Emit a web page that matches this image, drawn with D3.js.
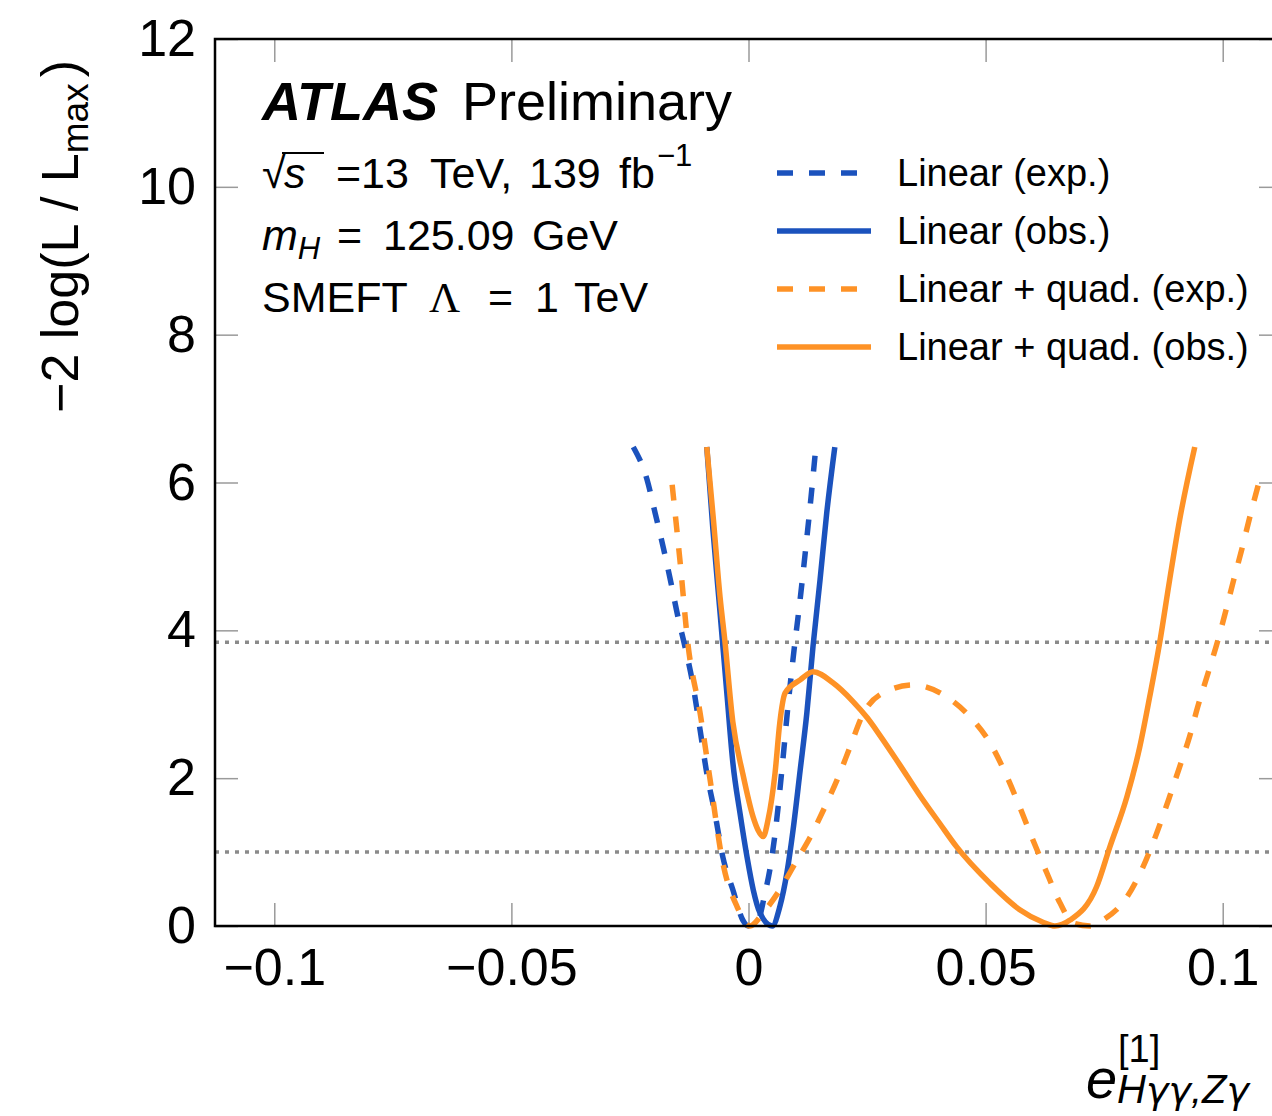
<!DOCTYPE html>
<html>
<head>
<meta charset="utf-8">
<script src="https://cdn.jsdelivr.net/npm/d3@7"></script>
<style>
body { margin: 0; background: #fff; }
svg { display: block; font-family: "Liberation Sans", Arial, Helvetica, sans-serif; }
</style>
</head>
<body>
<svg id="chart" width="1272" height="1116"></svg>
<script>
// scan values (x = e coefficient, y = -2 log L/Lmax)
var linearExp = [[-0.0243,6.48],[-0.0214,6.04],[-0.0197,5.59],[-0.0180,5.13],[-0.0165,4.69],[-0.0149,4.19],
    [-0.0134,3.78],[-0.0119,3.33],[-0.0102,2.65],[-0.0088,2.07],[-0.0071,1.53],[-0.0054,0.93],[-0.0033,0.49],
    [-0.0012,0.08],[0.0,0.0],[0.0018,0.04],[0.0035,0.45],[0.0045,0.76],[0.0057,1.30],[0.0071,2.15],[0.0083,2.96],
    [0.0096,3.73],[0.0108,4.37],[0.0121,5.13],[0.0132,5.81],[0.0142,6.48]];
var linearObs = [[-0.0088,6.48],[-0.0075,5.36],[-0.0060,4.24],[-0.0045,3.10],[-0.0033,2.21],[-0.0018,1.53],
    [-0.0003,0.93],[0.0010,0.49],[0.0024,0.18],[0.0050,0.0],[0.0066,0.26],[0.0081,0.72],[0.0094,1.30],
    [0.0109,2.11],[0.0123,2.88],[0.0136,3.78],[0.0151,4.69],[0.0165,5.59],[0.0182,6.48]];
var quadExp = [[-0.0161,5.97],[-0.0144,4.91],[-0.0128,3.83],[-0.0102,2.88],[-0.0081,1.98],[-0.0054,0.85],
    [-0.0024,0.26],[0.0003,0.0],[0.0031,0.18],[0.0066,0.49],[0.0102,0.89],[0.0130,1.20],[0.0161,1.61],
    [0.0187,1.98],[0.0214,2.42],[0.0241,2.86],[0.0283,3.15],[0.0347,3.26],[0.0418,3.10],[0.0467,2.83],
    [0.0509,2.48],[0.0545,2.02],[0.0572,1.61],[0.0600,1.16],[0.0629,0.72],[0.0657,0.31],[0.0684,0.04],
    [0.0720,0.0],[0.0747,0.08],[0.0798,0.39],[0.0832,0.80],[0.0861,1.26],[0.0888,1.75],[0.0909,2.15],
    [0.0930,2.56],[0.0947,2.96],[0.0969,3.42],[0.0990,3.87],[0.1008,4.30],[0.1023,4.68],[0.1040,5.09],
    [0.1057,5.53],[0.1078,6.04]];
var quadObs = [[-0.0088,6.48],[-0.0074,5.50],[-0.0060,4.45],[-0.0050,3.87],[-0.0033,2.76],[-0.0012,2.06],
    [0.0010,1.47],[0.0020,1.30],[0.0031,1.21],[0.0041,1.43],[0.0056,2.07],[0.0066,2.75],[0.0077,3.15],
    [0.0109,3.33],[0.0136,3.44],[0.0178,3.29],[0.0220,3.04],[0.0250,2.82],[0.0277,2.58],[0.0319,2.18],
    [0.0360,1.78],[0.0403,1.39],[0.0439,1.07],[0.0509,0.58],[0.0572,0.22],[0.0621,0.05],[0.0646,0.0],[0.0678,0.08],
    [0.0734,0.53],[0.0762,1.07],[0.0798,1.75],[0.0825,2.42],[0.0846,3.10],[0.0867,3.83],[0.0888,4.68],
    [0.0909,5.49],[0.0941,6.48]];

var xTicks = [-0.1, -0.05, 0, 0.05, 0.1];
var yTicks = [0, 2, 4, 6, 8, 10, 12];
var thresholds = [1.0, 3.84];
var legendLabels = ["Linear (exp.)", "Linear (obs.)", "Linear + quad. (exp.)", "Linear + quad. (obs.)"];

(function(){
var blue = "#1b52bd", orange = "#fe9226";
var series = [
    {data: linearExp, color: blue,   dash: "16,16"},
    {data: linearObs, color: blue,   dash: null},
    {data: quadExp,   color: orange, dash: "16,16"},
    {data: quadObs,   color: orange, dash: null}
];

var svg = d3.select("#chart");
var m = {left: 215, right: 1282, top: 39, bottom: 926};

var x = d3.scaleLinear().domain([-0.1125, 0.1125]).range([m.left, m.right]);
var y = d3.scaleLinear().domain([0, 12]).range([m.bottom, m.top]);

var fmt = function(d){ return d === 0 ? "0" : (d < 0 ? "\u2212" + String(-d) : String(d)); };

// axes, ticks inward on all four sides
var tickCol = "#9a9a9a";
function styleAxis(g, fs){
    g.select(".domain").remove();
    g.selectAll(".tick line").attr("stroke", tickCol).attr("stroke-width", 1.5);
    g.selectAll(".tick text").attr("fill", "#000").style("font-size", fs + "px")
        .style("font-family", "'Liberation Sans', Arial, sans-serif");
}
svg.append("g").attr("transform", "translate(0," + m.bottom + ")")
    .call(d3.axisBottom(x).tickValues(xTicks).tickFormat(fmt).tickSizeInner(-23).tickSizeOuter(0).tickPadding(22))
    .call(styleAxis, 52);
svg.append("g").attr("transform", "translate(0," + m.top + ")")
    .call(d3.axisTop(x).tickValues(xTicks).tickFormat("").tickSizeInner(-23).tickSizeOuter(0))
    .call(styleAxis, 52);
svg.append("g").attr("transform", "translate(" + m.left + ",0)")
    .call(d3.axisLeft(y).tickValues(yTicks).tickFormat(d3.format("d")).tickSizeInner(-23).tickSizeOuter(0).tickPadding(19))
    .call(styleAxis, 52);
svg.append("g").attr("transform", "translate(" + m.right + ",0)")
    .call(d3.axisRight(y).tickValues(yTicks).tickFormat("").tickSizeInner(-23).tickSizeOuter(0))
    .call(styleAxis, 52);

// reference lines (1 and 3.84)
svg.append("g").selectAll("line").data(thresholds).enter().append("line")
    .attr("x1", m.left).attr("x2", m.right)
    .attr("y1", function(d){ return y(d); }).attr("y2", function(d){ return y(d); })
    .attr("stroke", "#8a8a8a").attr("stroke-width", 3.5).attr("stroke-dasharray", "4,6");

// curves
var line = d3.line().x(function(d){ return x(d[0]); }).y(function(d){ return y(d[1]); })
    .curve(d3.curveMonotoneX);
svg.append("g").selectAll("path").data(series).enter().append("path")
    .attr("d", function(s){ return line(s.data); })
    .attr("fill", "none").attr("stroke", function(s){ return s.color; })
    .attr("stroke-width", 5.5).attr("stroke-dasharray", function(s){ return s.dash; });

// frame
svg.append("rect").attr("x", m.left).attr("y", m.top).attr("width", m.right - m.left).attr("height", m.bottom - m.top)
    .attr("fill", "none").attr("stroke", "#000").attr("stroke-width", 2.5);

// axis titles
var yt = svg.append("text").attr("transform", "translate(78,60) rotate(-90)")
    .attr("text-anchor", "end").attr("xml:space", "preserve").style("font-size", "52px");
yt.append("tspan").text("\u22122 log(L / L");
yt.append("tspan").attr("dy", 10).style("font-size", "37px").text("max");
yt.append("tspan").attr("dy", -10).attr("dx", 6).text(")");

var gam = "'DejaVu Sans', sans-serif";
var xt = svg.append("g");
xt.append("text").attr("x", 1086).attr("y", 1098).style("font-size", "56px").style("font-style", "italic").text("e");
xt.append("text").attr("x", 1118).attr("y", 1062).style("font-size", "38px").text("[1]");
var sub = xt.append("text").attr("x", 1117).attr("y", 1103).style("font-size", "40px").style("font-style", "italic");
sub.append("tspan").text("H");
sub.append("tspan").style("font-family", gam).style("font-size", "38px").text("\u03b3\u03b3");
sub.append("tspan").text(",Z");
sub.append("tspan").style("font-family", gam).style("font-size", "38px").text("\u03b3");

// ATLAS label block
var lab = svg.append("g");
var t1 = lab.append("text").attr("x", 262).attr("y", 120).style("font-size", "54px");
t1.append("tspan").style("font-weight", "bold").style("font-style", "italic").text("ATLAS");
t1.append("tspan").attr("x", 462).text("Preliminary");

var t2 = lab.append("text").attr("y", 188).style("font-size", "43px");
t2.append("tspan").attr("x", 262).text("\u221a");
t2.append("tspan").attr("x", 284).style("font-style", "italic").text("s");
t2.append("tspan").attr("x", 336).text("=13");
t2.append("tspan").attr("x", 430).text("TeV,");
t2.append("tspan").attr("x", 529).text("139");
t2.append("tspan").attr("x", 619).text("fb");
t2.append("tspan").attr("x", 657).attr("dy", -22).style("font-size", "31px").text("\u22121");
lab.append("line").attr("x1", 282).attr("x2", 324).attr("y1", 153).attr("y2", 153)
    .attr("stroke", "#000").attr("stroke-width", 2);

var t3 = lab.append("text").attr("y", 250).style("font-size", "43px");
t3.append("tspan").attr("x", 262).style("font-style", "italic").text("m");
t3.append("tspan").attr("dy", 9).style("font-size", "31px").style("font-style", "italic").text("H");
t3.append("tspan").attr("x", 337).attr("dy", -9).text("=");
t3.append("tspan").attr("x", 383).text("125.09");
t3.append("tspan").attr("x", 532).text("GeV");

var t4 = lab.append("text").attr("y", 312).style("font-size", "43px");
t4.append("tspan").attr("x", 262).text("SMEFT");
t4.append("tspan").attr("x", 429).style("font-family", "'Liberation Serif', 'DejaVu Serif', serif").text("\u039b");
t4.append("tspan").attr("x", 488).text("=");
t4.append("tspan").attr("x", 535).text("1");
t4.append("tspan").attr("x", 574).text("TeV");

// legend
var leg = svg.append("g").selectAll("g").data(series).enter().append("g")
    .attr("transform", function(d, i){ return "translate(777," + (173 + i * 58) + ")"; });
leg.append("line").attr("x1", 0).attr("x2", function(s){ return s.dash ? 83 : 94; }).attr("y1", 0).attr("y2", 0)
    .attr("stroke", function(s){ return s.color; }).attr("stroke-width", 5.5)
    .attr("stroke-dasharray", function(s){ return s.dash; });
leg.append("text").attr("x", 120).attr("y", 13).style("font-size", "38px")
    .attr("xml:space", "preserve")
    .text(function(s, i){ return legendLabels[i]; });
})();
</script>
</body>
</html>
